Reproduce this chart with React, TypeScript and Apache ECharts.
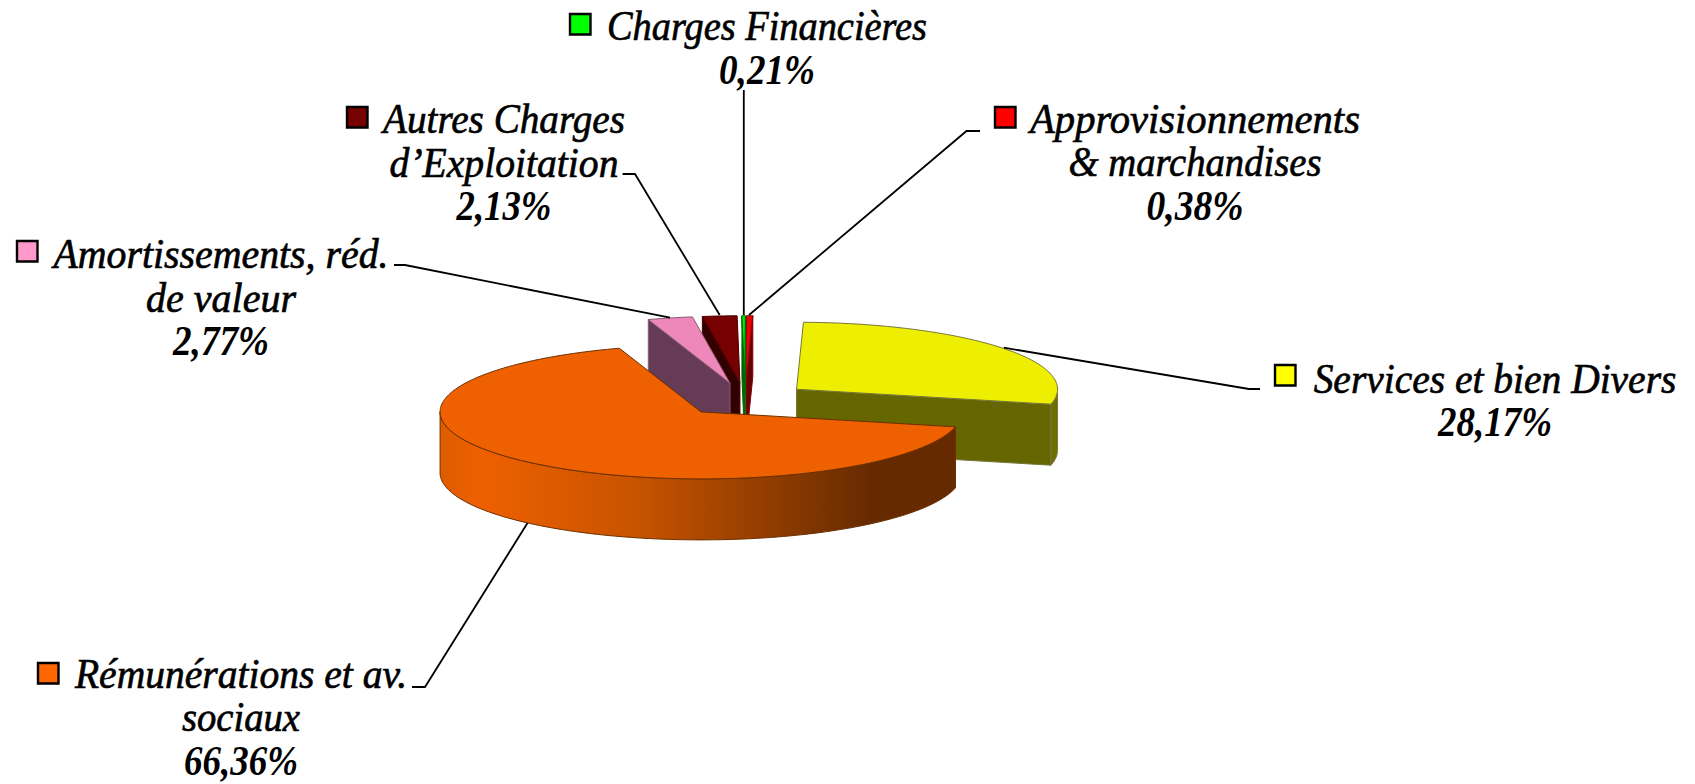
import React, { useEffect, useRef } from "react";
import * as echarts from "echarts";

// ---- data (clockwise from the orange slice's start)
const categories = [
  "Rémunérations et av. sociaux",
  "Amortissements, réd. de valeur",
  "Autres Charges d'Exploitation",
  "Charges Financières",
  "Approvisionnements & marchandises",
  "Services et bien Divers",
];
const shares = [66.36, 2.77, 2.13, 0.21, 0.38, 28.17];
const percentLabels = ["66,36%", "2,77%", "2,13%", "0,21%", "0,38%", "28,17%"];
const nameLines = [
  ["Rémunérations et av.", "sociaux"],
  ["Amortissements, réd.", "de valeur"],
  ["Autres Charges", "d’Exploitation"],
  ["Charges Financières"],
  ["Approvisionnements", "& marchandises"],
  ["Services et bien Divers"],
];

// ---- styles
const topColors = ["#EE6000", "#EE88BB", "#770000", "#00EE00", "#EE0000", "#EEEE00"];
const wallColors = ["#663000", "#663B55", "#330000", "#006600", "#660000", "#666600"];
const edgeColors = ["#6b3000", "#8a5a75", "#4a0000", "#006600", "#880000", "#77773a"];
const swatchColors = ["#FF6600", "#FF99CC", "#770000", "#00FF00", "#FF0000", "#FFFF00"];
const paintOrder = [5, 4, 3, 2, 1, 0];

// ---- pie geometry
const START_ANGLE = 102.9;
const CX = 745;
const CY = 399.5;
const RX = 261;
const RY = 67;
const DEPTH = 61;
const EXPLODE = 0.25;
const total = shares.reduce((s, v) => s + v, 0);

const rad = (d: number) => (d * Math.PI) / 180;

function sliceAngles(i: number) {
  let a = START_ANGLE;
  for (let k = 0; k < i; k++) a += (shares[k] / total) * 360;
  return [a, a + (shares[i] / total) * 360];
}

function renderSlice(_params: any, api: any) {
  const i = api.value(0) as number;
  const [t1, t2] = sliceAngles(i);
  const mid = rad((t1 + t2) / 2);
  const ax = CX + EXPLODE * RX * Math.sin(mid);
  const ay = CY - EXPLODE * RY * Math.cos(mid);
  const rim = (t: number, dz = 0): number[] => [
    ax + RX * Math.sin(rad(t)),
    ay - RY * Math.cos(rad(t)) + dz,
  ];
  const children: any[] = [];
  const edge = { stroke: edgeColors[i], lineWidth: 1, lineJoin: "round" };
  const wall = (t: number) => ({
    type: "polygon",
    shape: { points: [[ax, ay], rim(t), rim(t, DEPTH), [ax, ay + DEPTH]] },
    style: { fill: wallColors[i], ...edge },
  });
  if (Math.sin(rad(t1)) < 0) children.push(wall(t1));
  if (Math.sin(rad(t2)) > 0) children.push(wall(t2));

  // outer rim, only its part facing the viewer
  const arcs: number[][] = [];
  for (const shift of [0, 360]) {
    const lo = Math.max(t1, 90 + shift);
    const hi = Math.min(t2, 270 + shift);
    if (hi > lo) arcs.push([lo, hi]);
  }
  for (const [lo, hi] of arcs) {
    const upper: number[][] = [];
    const lower: number[][] = [];
    const n = Math.max(2, Math.ceil(hi - lo));
    for (let k = 0; k <= n; k++) {
      const t = lo + ((hi - lo) * k) / n;
      upper.push(rim(t));
      lower.unshift(rim(t, DEPTH));
    }
    const fill =
      i === 0
        ? new echarts.graphic.LinearGradient(1, 0, 0, 0, [
            { offset: 0, color: "#662A00" },
            { offset: 0.16, color: "#662A00" },
            { offset: 0.33, color: "#8A3A00" },
            { offset: 0.62, color: "#C85300" },
            { offset: 0.92, color: "#EE6000" },
            { offset: 1, color: "#DD5C00" },
          ])
        : "#6E6E00";
    children.push({
      type: "polygon",
      shape: { points: upper.concat(lower) },
      style: { fill, ...edge },
    });
  }

  const top: number[][] = [[ax, ay]];
  const steps = Math.max(2, Math.ceil(t2 - t1));
  for (let k = 0; k <= steps; k++) top.push(rim(t1 + ((t2 - t1) * k) / steps));
  children.push({
    type: "polygon",
    shape: { points: top },
    style: { fill: topColors[i], ...edge },
  });
  return { type: "group", children };
}

// ---- label layout: line centre x, first baseline y, swatch x, swatch y, leader points,
// and the pixel width each text line spans
const LINE_GAP = 43.6;
const labelLayout = [
  { cx: 241, y: 685.5, sx: 38, sy: 663, widths: [332, 118, 114], leader: [[412, 687], [425, 687], [527.5, 523]] },
  { cx: 221, y: 265.7, sx: 17, sy: 241, widths: [335, 150, 96], leader: [[394, 265], [405, 265], [670, 317.7]] },
  { cx: 504, y: 130.7, sx: 347, sy: 107, widths: [242, 229, 95], leader: [[622.6, 174], [635, 174], [719.7, 315]] },
  { cx: 767, y: 37.7, sx: 570, sy: 14, widths: [320, 96], leader: [[743.8, 90], [743.8, 315]] },
  { cx: 1195, y: 130.7, sx: 995, sy: 107, widths: [330, 253, 97], leader: [[980, 131], [966.5, 131], [749, 315]] },
  { cx: 1495, y: 390, sx: 1275, sy: 365, widths: [363, 114], leader: [[1260, 389], [1249, 389], [1003.8, 347.7]] },
];
const FONT_SIZE = 38;
const SCALE_Y = 1.12;
const BASE_SHIFT = 12;
const FONT_FAMILY = "'Liberation Serif'";

function buildGraphics() {
  const ctx = document.createElement("canvas").getContext("2d")!;
  const els: any[] = [];
  labelLayout.forEach((l, i) => {
    els.push({
      type: "polyline",
      z: 10,
      shape: { points: l.leader },
      style: { stroke: "#000", lineWidth: 1.8, fill: "none" },
    });
    els.push({
      type: "rect",
      z: 10,
      shape: { x: l.sx, y: l.sy, width: 20.5, height: 20.5 },
      style: { fill: swatchColors[i], stroke: "#000", lineWidth: 2.4 },
    });
    [...nameLines[i], percentLabels[i]].forEach((line, k) => {
      const isPercent = k === nameLines[i].length;
      const weight = isPercent ? "bold" : "normal";
      ctx.font = `italic ${weight} ${FONT_SIZE}px ${FONT_FAMILY}`;
      const measured = ctx.measureText(line).width || l.widths[k];
      els.push({
        type: "text",
        z: 10,
        x: l.cx,
        y: l.y + k * LINE_GAP - BASE_SHIFT,
        scaleX: l.widths[k] / measured,
        scaleY: SCALE_Y,
        style: {
          text: line,
          fill: "#000",
          stroke: isPercent ? undefined : "#000",
          lineWidth: isPercent ? 0 : 0.6,
          align: "center",
          verticalAlign: "middle",
          lineHeight: 30,
          fontFamily: FONT_FAMILY,
          fontStyle: "italic",
          fontWeight: weight,
          fontSize: FONT_SIZE,
        },
      });
    });
  });
  return els;
}

export default function App() {
  const ref = useRef<HTMLDivElement>(null);
  useEffect(() => {
    document.body.style.margin = "0";
    document.body.style.background = "#fff";
    const chart = echarts.init(ref.current!, undefined, { renderer: "svg" });
    chart.setOption({
      animation: false,
      backgroundColor: "#ffffff",
      tooltip: { show: false },
      series: [
        {
          type: "custom",
          coordinateSystem: "none",
          renderItem: renderSlice,
          silent: true,
          data: paintOrder.map((i) => ({ name: categories[i], value: [i, shares[i]] })),
        },
      ],
      graphic: { elements: buildGraphics() },
    });
    return () => chart.dispose();
  }, []);
  return <div ref={ref} style={{ width: 1695, height: 784, overflow: "hidden" }} />;
}
